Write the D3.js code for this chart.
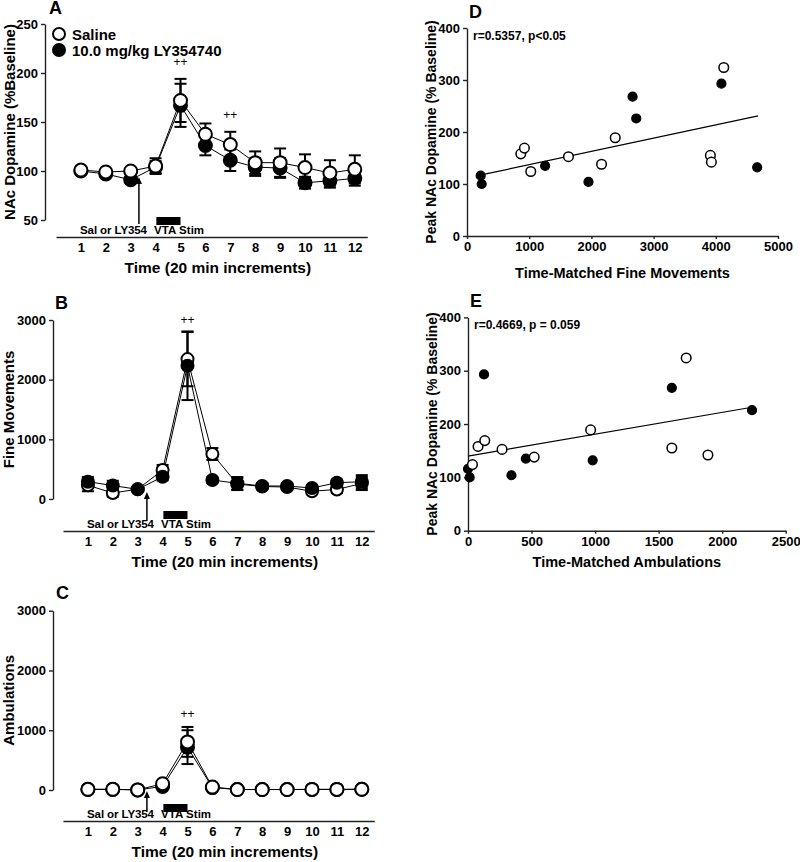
<!DOCTYPE html>
<html><head><meta charset="utf-8">
<script src="https://cdn.jsdelivr.net/npm/d3@7"></script>
<style>
body{margin:0;background:#fff;}
svg{display:block;font-family:"Liberation Sans",Arial,sans-serif;font-weight:bold;}
</style></head>
<body><svg id="c" width="800" height="862"></svg>
<script>
// ---------- data ----------
const times = [1,2,3,4,5,6,7,8,9,10,11,12];
const timeTicks = [1,2,3,4,5,6,7,8,9,10,11,12];

const daSaline    = [101, 99, 100, 105, 172, 137.5, 127, 108.5, 108.5, 103.5, 98, 101.7];
const daSalineSem = [2, 2, 3, 8, 22, 11, 13, 11.5, 14.5, 13.5, 13, 14.3];
const daLY        = [100, 97, 91, 104, 167, 126, 111, 104, 103, 88, 90, 92.5];
const daLYSem     = [2, 3, 3, 6, 22, 10, 11, 9, 10, 6, 7, 7.5];

const fineSaline    = [230, 100, 165, 486, 2345, 754, 250, 210, 200, 130, 160, 260];
const fineSalineSem = [100, 60, 30, 85, 455, 100, 100, 50, 50, 50, 60, 110];
const fineLY        = [290, 225, 162, 373, 2233, 318, 263, 218, 218, 184, 273, 290];
const fineLYSem     = [80, 80, 30, 60, 575, 40, 105, 50, 40, 40, 50, 110];

const ambSaline    = [12, 12, 2, 105, 805, 50, 8, 8, 8, 10, 10, 12];
const ambSalineSem = [5, 5, 5, 20, 250, 15, 5, 5, 5, 5, 5, 5];
const ambLY        = [10, 10, 2, 60, 717, 40, 8, 8, 8, 10, 10, 12];
const ambLYSem     = [5, 5, 5, 20, 283, 15, 5, 5, 5, 5, 5, 5];

const sigA = [{t:5, v:207}, {t:7, v:153}];
const sigB = [{t:5, v:2930}];
const sigC = [{t:5, v:1200}];

const peakSaline = [158, 169, 152.5, 189, 324, 155, 142, 124, 138];
const fineMatchedSaline = [865, 923, 1631, 2383, 4128, 3913, 3929, 1025, 2163];
const ambMatchedSaline  = [79, 132, 268, 965, 1717, 1604, 1888, 35, 521];
const peakLY = [116, 100, 135, 104, 268, 226, 293, 132];
const fineMatchedLY = [220, 236, 1256, 1953, 2662, 2721, 4090, 4665];
const ambMatchedLY  = [0, 13, 455, 342, 1604, 2235, 126, 981];

const fitD = [[210, 117], [4680, 231]];
const fitE = [[0, 140], [2235, 231.5]];

// ---------- drawing ----------
const svg = d3.select("#c");
const AX = "#222";
const fmt = d3.format("d");

function styleAxis(g){
  g.selectAll("path.domain").attr("stroke", AX).attr("stroke-width", 1.4);
  g.selectAll(".tick line").attr("stroke", AX).attr("stroke-width", 1.4);
  g.selectAll("text").attr("fill", "#000").attr("font-weight", "bold")
    .attr("font-family", '"Liberation Sans",Arial,sans-serif');
}

function timePanel(o){
  const x = d3.scaleLinear().domain([0, 12.5]).range([o.xl, o.xl + 12.5*24.9]);
  const y = d3.scaleLinear().domain(o.yDomain).range([o.yb, o.yt]);
  const g = svg.append("g");
  const ya = g.append("g").attr("transform", `translate(${o.yx},0)`)
    .call(d3.axisLeft(y).tickValues(o.yTicks).tickFormat(fmt).tickSize(4).tickSizeOuter(0).tickPadding(3));
  ya.selectAll("text").attr("font-size", 13);
  styleAxis(ya);
  const xa = g.append("g").attr("transform", `translate(0,${o.xy})`)
    .call(d3.axisBottom(x).tickValues(timeTicks).tickFormat(fmt).tickSize(0).tickSizeOuter(0).tickPadding(6));
  xa.selectAll("text").attr("font-size", 13);
  styleAxis(xa);
  g.append("text").attr("x", x(6.5)).attr("y", o.xy + 36).attr("text-anchor", "middle")
    .attr("font-size", 15.5).text("Time (20 min increments)");
  g.append("text").attr("transform", `translate(${o.ytx},${(o.yt + o.yb)/2}) rotate(-90)`)
    .attr("text-anchor", "middle").attr("font-size", 15).text(o.yTitle);
  g.append("text").attr("x", o.lx).attr("y", o.ly).attr("font-size", 18).text(o.letter);
  g.append("text").attr("x", x(0) + 24).attr("y", o.xy - 3).attr("font-size", 11.5)
    .attr("textLength", 67).text("Sal or LY354");
  g.append("text").attr("x", x(4) - 1.5).attr("y", o.xy - 3).attr("font-size", 11.5)
    .attr("textLength", 50).text("VTA Stim");
  g.append("rect").attr("x", x(4.03)).attr("y", o.barY).attr("width", x(5) - x(4.03)).attr("height", 8)
    .attr("fill", "#000");
  g.append("line").attr("x1", x(o.arrowT)).attr("x2", x(o.arrowT)).attr("y1", o.arrowB).attr("y2", o.arrowTip + 5)
    .attr("stroke", "#000").attr("stroke-width", 1.5);
  g.append("path").attr("d", `M${x(o.arrowT)},${o.arrowTip} l-3,7 l6,0 z`).attr("fill", "#000");

  const series = [
    {v: o.ly_, s: o.lySem, fill: "#000"},
    {v: o.sal, s: o.salSem, fill: "#fff"}
  ];
  series.forEach(sr => {
    const eg = g.append("g");
    times.forEach((t, i) => {
      const cx = x(t), top = y(sr.v[i] + sr.s[i]), bot = y(sr.v[i] - sr.s[i]);
      eg.append("line").attr("x1", cx).attr("x2", cx).attr("y1", top).attr("y2", bot)
        .attr("stroke", "#000").attr("stroke-width", 2);
      [top, bot].forEach(yy => eg.append("line").attr("x1", cx - 6).attr("x2", cx + 6)
        .attr("y1", yy).attr("y2", yy).attr("stroke", "#000").attr("stroke-width", 2));
    });
  });
  const line = d3.line().x(d => x(d[0])).y(d => y(d[1]));
  series.forEach(sr => {
    g.append("path").datum(times.map((t, i) => [t, sr.v[i]])).attr("d", line)
      .attr("fill", "none").attr("stroke", "#000").attr("stroke-width", 1);
  });
  const order = o.blackOnTop ? [series[1], series[0]] : series;
  order.forEach(sr => {
    g.append("g").selectAll("circle").data(times).join("circle")
      .attr("cx", t => x(t)).attr("cy", (t, i) => y(sr.v[i])).attr("r", o.r)
      .attr("fill", sr.fill).attr("stroke", "#000").attr("stroke-width", 2);
  });
  o.sig.forEach(s => g.append("text").attr("x", x(s.t)).attr("y", y(s.v)).attr("text-anchor", "middle")
    .attr("font-size", 12).attr("font-weight", "normal").attr("fill", "#000").text("++"));
  return {x, y, g};
}

const A = timePanel({
  xl: 56, xy: 237, yx: 45, yt: 24, yb: 220, yDomain: [50, 250], yTicks: [50,100,150,200,250],
  yTitle: "NAc Dopamine (%Baseline)", ytx: 15, letter: "A", lx: 49, ly: 14,
  barY: 217, arrowT: 3.33, arrowB: 224, arrowTip: 177,
  sal: daSaline, salSem: daSalineSem, ly_: daLY, lySem: daLYSem, r: 6.5, blackOnTop: false, sig: sigA
});
A.g.append("circle").attr("cx", 59).attr("cy", 34).attr("r", 6).attr("fill", "#fff").attr("stroke", "#000").attr("stroke-width", 2);
A.g.append("text").attr("x", 72).attr("y", 40).attr("font-size", 15).text("Saline");
A.g.append("circle").attr("cx", 59).attr("cy", 50).attr("r", 6).attr("fill", "#000").attr("stroke", "#000").attr("stroke-width", 2);
A.g.append("text").attr("x", 72).attr("y", 56).attr("font-size", 15).text("10.0 mg/kg LY354740");

timePanel({
  xl: 63, xy: 531, yx: 53, yt: 320, yb: 499, yDomain: [0, 3000], yTicks: [0,1000,2000,3000],
  yTitle: "Fine Movements", ytx: 14, letter: "B", lx: 55, ly: 309,
  barY: 511, arrowT: 3.37, arrowB: 521, arrowTip: 492,
  sal: fineSaline, salSem: fineSalineSem, ly_: fineLY, lySem: fineLYSem, r: 6, blackOnTop: true, sig: sigB
});

timePanel({
  xl: 63, xy: 821, yx: 53, yt: 610.7, yb: 790, yDomain: [0, 3000], yTicks: [0,1000,2000,3000],
  yTitle: "Ambulations", ytx: 14, letter: "C", lx: 56, ly: 599,
  barY: 804, arrowT: 3.37, arrowB: 812, arrowTip: 791,
  sal: ambSaline, salSem: ambSalineSem, ly_: ambLY, lySem: ambLYSem, r: 6.5, blackOnTop: false, sig: sigC
});

function scatterPanel(o){
  const x = d3.scaleLinear().domain([0, o.xMax]).range([o.xl, o.xr]);
  const y = d3.scaleLinear().domain([0, 400]).range([o.yb, o.yt]);
  const g = svg.append("g");
  const ya = g.append("g").attr("transform", `translate(${o.xl},0)`)
    .call(d3.axisLeft(y).tickValues([0,100,200,300,400]).tickFormat(fmt).tickSize(4).tickSizeOuter(0).tickPadding(3));
  ya.selectAll("text").attr("font-size", 13);
  styleAxis(ya);
  const xa = g.append("g").attr("transform", `translate(0,${o.yb})`)
    .call(d3.axisBottom(x).tickValues(o.xTicks).tickFormat(fmt).tickSize(3).tickSizeOuter(0).tickPadding(3));
  xa.selectAll("text").attr("font-size", 13);
  styleAxis(xa);
  g.append("text").attr("x", (o.xl + o.xr)/2).attr("y", o.xty).attr("text-anchor", "middle")
    .attr("font-size", 14.5).text(o.xTitle);
  g.append("text").attr("transform", `translate(${o.xl - 31},${(o.yt + o.yb)/2}) rotate(-90)`)
    .attr("text-anchor", "middle").attr("font-size", 14).text("Peak NAc Dopamine (% Baseline)");
  g.append("text").attr("x", o.xl + 2).attr("y", o.yt - 10).attr("font-size", 18).text(o.letter);
  g.append("text").attr("x", o.xl + 6).attr("y", o.yt + 12).attr("font-size", 12).text(o.note);
  g.append("line").attr("x1", x(o.fit[0][0])).attr("y1", y(o.fit[0][1]))
    .attr("x2", x(o.fit[1][0])).attr("y2", y(o.fit[1][1])).attr("stroke", "#000").attr("stroke-width", 1.2);
  g.append("g").selectAll("circle").data(o.ly_).join("circle")
    .attr("cx", (d, i) => x(o.lyX[i])).attr("cy", d => y(d)).attr("r", 4.5)
    .attr("fill", "#000").attr("stroke", "#000").attr("stroke-width", 1.2);
  g.append("g").selectAll("circle").data(o.sal).join("circle")
    .attr("cx", (d, i) => x(o.salX[i])).attr("cy", d => y(d)).attr("r", 4.8)
    .attr("fill", "#fff").attr("stroke", "#000").attr("stroke-width", 1.5);
}

scatterPanel({
  xl: 467, xr: 778, yt: 28, yb: 236, xMax: 5000, xTicks: [0,1000,2000,3000,4000,5000],
  xTitle: "Time-Matched Fine Movements", xty: 278, letter: "D", note: "r=0.5357, p<0.05",
  fit: fitD, sal: peakSaline, salX: fineMatchedSaline, ly_: peakLY, lyX: fineMatchedLY
});
scatterPanel({
  xl: 468, xr: 785.7, yt: 317.4, yb: 530.7, xMax: 2500, xTicks: [0,500,1000,1500,2000,2500],
  xTitle: "Time-Matched Ambulations", xty: 567, letter: "E", note: "r=0.4669, p = 0.059",
  fit: fitE, sal: peakSaline, salX: ambMatchedSaline, ly_: peakLY, lyX: ambMatchedLY
});
</script></body></html>
